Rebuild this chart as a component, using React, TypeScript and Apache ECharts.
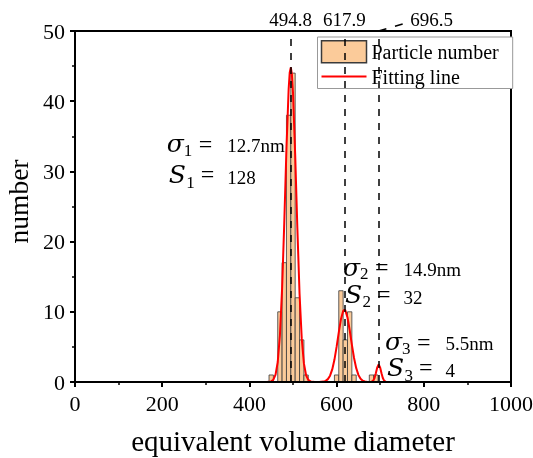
import React, { useEffect, useRef } from "react";
import * as echarts from "echarts";

// Histogram bins (centre of each 10-unit bin) and particle counts
const binCenters = [450, 470, 480, 490, 500, 510, 520, 530, 600, 610, 620, 630, 640, 680, 690];
const counts = [1, 10, 17, 38, 44, 12, 6, 1, 1, 13, 6, 10, 1, 1, 1];
const binWidth = 10;

// Fitting line
const fitX = [430, 440, 445, 450, 455, 460, 465, 470, 475, 480, 485, 490, 492.5, 495, 497.5, 500, 505, 510, 515, 520,
  525, 530, 535, 540, 545, 550, 560, 570, 575, 580, 585, 590, 595, 600, 605, 610, 615, 618, 620, 625,
  630, 635, 640, 645, 650, 655, 660, 665, 670, 675, 680, 684, 687, 690, 693, 696.5, 700, 703, 706, 709, 713, 720];
const fitY = [0, 0, 0.02, 0.09, 0.33, 1.05, 2.85, 6.66, 13.3, 22.7, 33.3, 41.7, 44.1, 44.8, 43.8, 41.2, 32.4, 21.9, 12.6, 6.25,
  2.65, 0.96, 0.3, 0.08, 0.02, 0, 0, 0.06, 0.16, 0.41, 0.9, 1.79, 3.16, 5.0, 7.08, 8.95, 10.1, 10.3, 10.2, 9.19,
  7.41, 5.33, 3.43, 1.97, 1.01, 0.46, 0.19, 0.07, 0.02, 0.01, 0.03, 0.19, 0.56, 1.24, 2.04, 2.5, 2.04, 1.24, 0.56, 0.19, 0.03, 0];

// Peak positions
const peaks = [494.8, 617.9, 696.5];
const subscripts = ["1", "2", "3"];
const sigmaLabels = ["12.7nm", "14.9nm", "5.5nm"];
const sizeLabels = ["128", "32", "4"];

const xTicks = { min: 0, max: 1000, interval: 200 };
const yTicks = { min: 0, max: 50, interval: 10 };

const SERIF = '"Liberation Serif", "Times New Roman", serif';
const MATH = '"DejaVu Serif", serif';
const BAR_FILL = "#FBCB9A";
const BAR_STROKE = "#3a3a3a";

function txt(text: string, x: number, baseline: number, size: number, family: string, italic = false) {
  return {
    type: "text",
    x,
    y: baseline - 0.34 * size,
    z: 20,
    style: {
      text,
      fill: "#000",
      fontSize: size,
      fontFamily: family,
      fontStyle: italic ? "italic" : "normal",
      lineHeight: Math.round(size * 0.8),
      align: "left",
      verticalAlign: "middle",
    },
  };
}

function annotation(i: number, x0: number, bs: number, bS: number) {
  return [
    txt("σ", x0, bs, 25, MATH, true),
    txt(subscripts[i], x0 + 17, bs + 4, 17, SERIF),
    txt("=", x0 + 32, bs, 24, SERIF),
    txt(sigmaLabels[i], x0 + 60.5, bs, 19, SERIF),
    txt("S", x0 + 2, bS, 25, MATH, true),
    txt(subscripts[i], x0 + 19.5, bS + 5, 17, SERIF),
    txt("=", x0 + 34, bS - 0.5, 24, SERIF),
    txt(sizeLabels[i], x0 + 60.5, bS + 1, 19, SERIF),
  ];
}

export default function App() {
  const ref = useRef<HTMLDivElement>(null);
  useEffect(() => {
    if (!ref.current) return;
    const chart = echarts.init(ref.current, null, { renderer: "svg" });
    const axisCommon = {
      axisLine: { show: true, lineStyle: { color: "#000", width: 2 } },
      axisTick: { show: true, length: 5, lineStyle: { color: "#000", width: 2 } },
      minorTick: { show: true, splitNumber: 2, length: 3, lineStyle: { color: "#000", width: 1.5 } },
      splitLine: { show: false },
      minorSplitLine: { show: false },
      axisLabel: { fontFamily: SERIF, fontSize: 22, color: "#000", formatter: (v: number) => String(v) },
      nameLocation: "middle",
      nameTextStyle: { fontFamily: SERIF, fontSize: 28, color: "#000" },
      z: 10,
    };
    const option: any = {
      animation: false,
      grid: {
        left: 75, right: 22, top: 31, bottom: 76,
        outerBoundsMode: "none", containLabel: false,
        show: true, borderColor: "#000", borderWidth: 2, backgroundColor: "transparent",
      },
      legend: {
        orient: "vertical",
        left: 317.5,
        top: 37,
        itemWidth: 45,
        itemHeight: 22,
        itemGap: 3,
        padding: [3, 14, 2, 3],
        borderColor: "#999",
        borderWidth: 1,
        backgroundColor: "#fff",
        textStyle: { fontFamily: SERIF, fontSize: 20, color: "#000" },
        itemTextGap: 5,
        data: [
          { name: "Particle number", icon: "rect", itemStyle: { color: BAR_FILL, borderColor: BAR_STROKE, borderWidth: 1.5 } },
          { name: "Fitting line", itemStyle: { opacity: 0 } },
        ],
      },
      xAxis: {
        type: "value",
        ...xTicks,
        ...axisCommon,
        axisLabel: { ...axisCommon.axisLabel, margin: 10 },
        name: "equivalent volume diameter",
        nameGap: 44,
        nameTextStyle: { ...axisCommon.nameTextStyle, fontSize: 29 },
      },
      yAxis: {
        type: "value",
        ...yTicks,
        ...axisCommon,
        axisLabel: { ...axisCommon.axisLabel, margin: 10 },
        name: "number",
        nameGap: 38,
        nameTextStyle: { ...axisCommon.nameTextStyle, fontSize: 27.5, padding: [0, 0, 0, 10] },
      },
      series: [
        {
          name: "Particle number",
          type: "custom",
          z: 2,
          itemStyle: { color: BAR_FILL },
          encode: { x: 0, y: 1 },
          data: binCenters.map((c, i) => [c, counts[i]]),
          renderItem: (params: any, api: any) => {
            const x = api.value(0);
            const y = api.value(1);
            const p0 = api.coord([x - binWidth / 2, y]);
            const p1 = api.coord([x + binWidth / 2, 0]);
            return {
              type: "rect",
              shape: { x: p0[0], y: p0[1], width: p1[0] - p0[0], height: p1[1] - p0[1] },
              style: { fill: BAR_FILL, stroke: BAR_STROKE, lineWidth: 0.8 },
            };
          },
        },
        {
          name: "Fitting line",
          type: "line",
          z: 3,
          symbol: "none",
          showSymbol: false,
          color: "#ff0000",
          lineStyle: { color: "#ff0000", width: 2 },
          data: fitX.map((x, i) => [x, fitY[i]]),
          markLine: {
            silent: true,
            symbol: ["none", "none"],
            lineStyle: { color: "#000", width: 1.5, type: [7, 7] },
            label: {
              show: true,
              position: "end",
              distance: 2,
              formatter: (p: any) => String(p.value),
              fontFamily: SERIF,
              fontSize: 19,
              color: "#000",
            },
            data: peaks.map((p, i) =>
              i === 2 ? { xAxis: p, label: { offset: [53, 0] } } : { xAxis: p }
            ),
          },
        },
      ],
    };
    chart.setOption(option);
    const top = chart.convertToPixel({ gridIndex: 0 }, [peaks[2], yTicks.max]) as number[];
    chart.setOption({
      graphic: [
        {
          type: "line",
          z: 20,
          shape: { x1: top[0], y1: top[1], x2: top[0] + 29, y2: top[1] - 8.5 },
          style: { stroke: "#000", lineWidth: 1.5, lineDash: [8, 9] },
        },
        ...annotation(0, 166.7, 152, 183),
        ...annotation(1, 343, 275.5, 302.5),
        ...annotation(2, 385, 350, 376),
      ],
    });
    return () => chart.dispose();
  }, []);
  return <div ref={ref} style={{ position: "fixed", left: 0, top: 0, width: 533, height: 458 }} />;
}
